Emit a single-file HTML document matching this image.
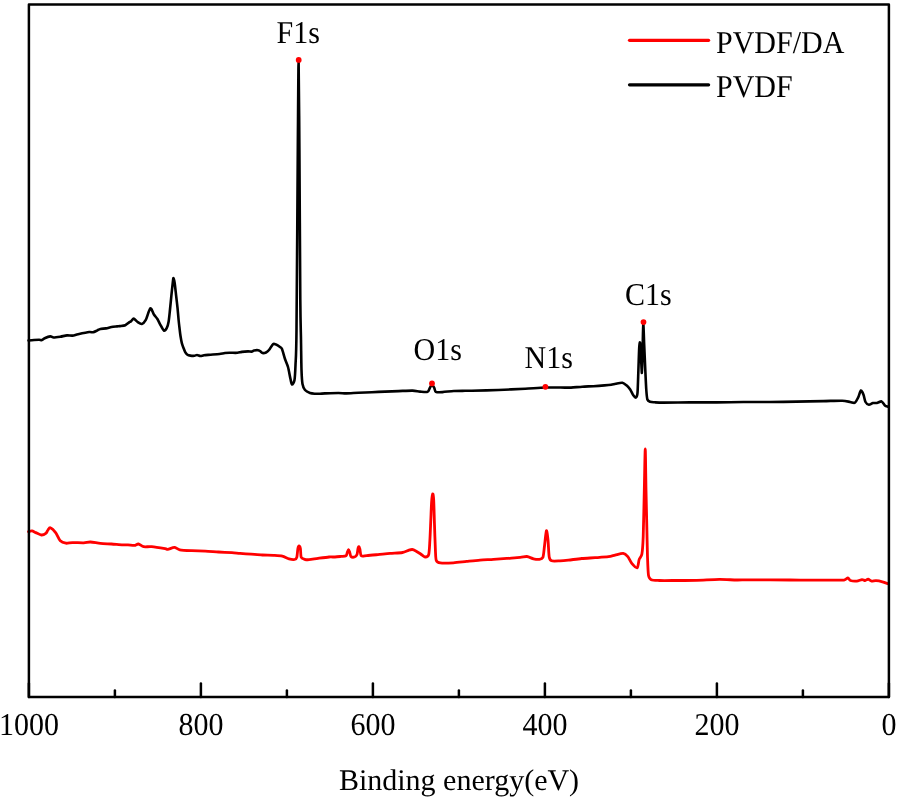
<!DOCTYPE html>
<html><head><meta charset="utf-8"><style>
html,body{margin:0;padding:0;background:#fff;}
svg{display:block;will-change:transform;}
text{font-family:"Liberation Serif",serif;font-size:30px;fill:#000;text-rendering:geometricPrecision;}
</style></head><body>
<svg width="898" height="800" viewBox="0 0 898 800">
<rect x="0" y="0" width="898" height="800" fill="#fff"/>
<path d="M28.50,340.50 C29.23,340.43 32.59,340.11 34.00,340.00 C35.41,339.89 38.05,339.69 39.10,339.70 C40.15,339.71 41.15,340.30 41.90,340.10 C42.65,339.90 43.58,338.69 44.70,338.20 C45.82,337.71 49.11,336.49 50.30,336.40 C51.49,336.31 52.27,337.46 53.60,337.50 C54.93,337.54 58.51,336.98 60.30,336.70 C62.09,336.42 65.37,335.55 67.00,335.40 C68.63,335.25 71.02,335.76 72.50,335.60 C73.98,335.44 75.87,334.68 78.10,334.20 C80.33,333.72 87.20,332.25 89.20,332.00 C91.20,331.75 92.06,332.49 93.10,332.30 C94.14,332.11 96.03,331.05 97.00,330.60 C97.97,330.15 99.20,329.19 100.40,328.90 C101.60,328.61 104.52,328.65 106.00,328.40 C107.48,328.15 110.02,327.27 111.50,327.00 C112.98,326.73 115.97,326.52 117.10,326.40 C118.23,326.28 118.91,326.26 120.00,326.10 C121.09,325.94 124.11,325.67 125.30,325.20 C126.49,324.73 128.13,323.13 128.90,322.60 C129.67,322.07 130.45,321.73 131.10,321.20 C131.75,320.67 132.91,318.48 133.80,318.60 C134.69,318.72 136.73,321.39 137.80,322.10 C138.87,322.81 140.73,324.19 141.80,323.90 C142.87,323.61 144.67,321.98 145.80,319.90 C146.93,317.82 149.22,309.02 150.30,308.30 C151.38,307.58 152.95,313.07 153.90,314.50 C154.85,315.93 156.57,317.69 157.40,319.00 C158.23,320.31 159.23,322.75 160.10,324.30 C160.97,325.85 163.02,330.08 163.90,330.60 C164.78,331.12 166.07,329.39 166.70,328.20 C167.33,327.01 168.16,324.19 168.60,321.70 C169.04,319.21 169.63,313.01 170.00,309.50 C170.37,305.99 171.03,299.03 171.40,295.40 C171.77,291.77 172.52,284.61 172.80,282.30 C173.08,279.99 173.25,277.98 173.50,278.10 C173.75,278.22 174.35,280.89 174.70,283.20 C175.05,285.51 175.73,292.15 176.10,295.40 C176.47,298.65 177.17,304.32 177.50,307.60 C177.83,310.88 178.33,317.28 178.60,320.00 C178.87,322.72 179.25,325.87 179.50,328.00 C179.75,330.13 180.18,333.95 180.50,336.00 C180.82,338.05 181.51,341.84 181.90,343.40 C182.29,344.96 182.96,346.54 183.40,347.70 C183.84,348.86 184.67,351.17 185.20,352.10 C185.73,353.03 186.71,354.23 187.40,354.70 C188.09,355.17 189.47,355.45 190.40,355.60 C191.33,355.75 193.52,355.88 194.40,355.80 C195.28,355.72 196.19,354.97 197.00,355.00 C197.81,355.03 199.57,355.97 200.50,356.00 C201.43,356.03 202.65,355.37 204.00,355.20 C205.35,355.03 208.53,354.86 210.60,354.70 C212.67,354.54 217.59,354.23 219.50,354.00 C221.41,353.77 223.47,353.16 224.90,353.00 C226.33,352.84 228.53,352.83 230.20,352.80 C231.87,352.77 235.85,352.92 237.40,352.80 C238.95,352.68 240.39,352.09 241.80,351.90 C243.21,351.71 246.69,351.44 248.00,351.40 C249.31,351.36 250.80,351.72 251.60,351.60 C252.40,351.48 253.15,350.69 254.00,350.50 C254.85,350.31 257.20,350.13 258.00,350.20 C258.80,350.27 259.40,350.63 260.00,351.00 C260.60,351.37 261.70,352.80 262.50,353.00 C263.30,353.20 265.13,352.90 266.00,352.50 C266.87,352.10 268.07,351.11 269.00,350.00 C269.93,348.89 272.07,344.93 273.00,344.20 C273.93,343.47 275.07,344.13 276.00,344.50 C276.93,344.87 279.20,346.40 280.00,347.00 C280.80,347.60 281.33,347.40 282.00,349.00 C282.67,350.60 284.20,356.60 285.00,359.00 C285.80,361.40 287.27,364.33 288.00,367.00 C288.73,369.67 289.97,376.67 290.50,379.00 C291.03,381.33 291.47,384.37 292.00,384.50 C292.53,384.63 294.03,382.60 294.50,380.00 C294.97,377.40 295.23,371.67 295.50,365.00 C295.77,358.33 296.19,358.67 296.50,330.00 C296.81,301.33 297.52,185.87 297.80,150.00 C298.08,114.13 298.39,61.00 298.60,61.00 C298.81,61.00 299.17,118.13 299.40,150.00 C299.63,181.87 300.09,274.67 300.30,300.00 C300.51,325.33 300.84,330.67 301.00,340.00 C301.16,349.33 301.30,364.13 301.50,370.00 C301.70,375.87 302.03,381.33 302.50,384.00 C302.97,386.67 304.00,388.80 305.00,390.00 C306.00,391.20 308.67,392.51 310.00,393.00 C311.33,393.49 313.67,393.61 315.00,393.70 C316.33,393.79 318.67,393.74 320.00,393.70 C321.33,393.66 322.55,393.49 325.00,393.40 C327.45,393.31 335.55,393.00 338.40,393.00 C341.25,393.00 343.73,393.44 346.40,393.40 C349.07,393.36 355.01,392.86 358.40,392.70 C361.79,392.54 368.24,392.35 371.80,392.20 C375.36,392.05 381.54,391.75 385.10,391.60 C388.66,391.45 394.85,391.23 398.50,391.10 C402.15,390.97 409.63,390.53 412.50,390.60 C415.37,390.67 418.00,391.43 420.00,391.60 C422.00,391.77 426.19,392.38 427.50,391.90 C428.81,391.42 429.35,388.77 429.80,388.00 C430.25,387.23 430.46,386.35 430.90,386.10 C431.34,385.85 432.65,385.85 433.10,386.10 C433.55,386.35 433.94,387.24 434.30,388.00 C434.66,388.76 434.71,391.25 435.80,391.80 C436.89,392.35 440.10,392.21 442.50,392.10 C444.90,391.99 450.80,391.17 453.80,391.00 C456.80,390.83 462.61,390.84 465.00,390.80 C467.39,390.76 467.23,390.81 471.70,390.70 C476.17,390.59 491.37,390.27 498.50,390.00 C505.63,389.73 518.93,389.03 525.20,388.70 C531.47,388.37 540.19,387.65 545.50,387.50 C550.81,387.35 561.59,387.59 565.00,387.60 C568.41,387.61 568.79,387.72 571.10,387.60 C573.41,387.48 579.33,386.89 582.30,386.70 C585.27,386.51 590.44,386.37 593.40,386.20 C596.36,386.03 602.13,385.60 604.50,385.40 C606.87,385.20 609.71,384.93 611.20,384.70 C612.69,384.47 614.21,383.95 615.70,383.70 C617.19,383.45 620.92,382.55 622.40,382.80 C623.88,383.05 625.76,384.71 626.80,385.60 C627.84,386.49 629.31,388.17 630.20,389.50 C631.09,390.83 632.73,394.53 633.50,395.60 C634.27,396.67 635.47,397.85 636.00,397.50 C636.53,397.15 637.18,396.67 637.50,393.00 C637.82,389.33 638.17,376.00 638.40,370.00 C638.63,364.00 638.99,351.67 639.20,348.00 C639.41,344.33 639.79,341.97 640.00,342.50 C640.21,343.03 640.55,347.93 640.80,352.00 C641.05,356.07 641.66,373.27 641.90,373.00 C642.14,372.73 642.41,356.53 642.60,350.00 C642.79,343.47 643.09,324.67 643.30,324.00 C643.51,323.33 643.93,338.87 644.20,345.00 C644.47,351.13 645.02,364.00 645.30,370.00 C645.58,376.00 646.02,386.07 646.30,390.00 C646.58,393.93 646.88,397.93 647.40,399.50 C647.92,401.07 649.23,401.43 650.20,401.80 C651.17,402.17 652.94,402.19 654.70,402.30 C656.46,402.41 658.68,402.59 663.40,402.60 C668.12,402.61 682.98,402.43 690.10,402.40 C697.22,402.37 709.68,402.45 716.80,402.40 C723.92,402.35 736.41,402.05 743.50,402.00 C750.59,401.95 762.91,402.05 770.00,402.00 C777.09,401.95 789.57,401.72 796.70,401.60 C803.83,401.48 817.43,401.22 823.50,401.10 C829.57,400.98 838.64,400.58 842.20,400.70 C845.76,400.82 848.51,401.73 850.20,402.00 C851.89,402.27 853.83,403.31 854.90,402.70 C855.97,402.09 857.40,399.03 858.20,397.40 C859.00,395.77 860.19,390.86 860.90,390.50 C861.61,390.14 862.89,393.17 863.50,394.70 C864.11,396.23 864.78,400.67 865.50,402.00 C866.22,403.33 867.91,404.57 868.90,404.70 C869.89,404.83 871.83,403.23 872.90,403.00 C873.97,402.77 875.74,403.21 876.90,403.00 C878.06,402.79 880.53,401.08 881.60,401.40 C882.67,401.72 884.05,404.69 884.90,405.40 C885.75,406.11 887.59,406.53 888.00,406.70" fill="none" stroke="#000" stroke-width="2.6" stroke-linejoin="round" stroke-linecap="round"/>
<path d="M28.50,531.70 C28.95,531.59 30.93,530.78 31.90,530.90 C32.87,531.02 34.53,532.05 35.80,532.60 C37.07,533.15 40.07,534.89 41.40,535.00 C42.73,535.11 44.92,534.07 45.80,533.40 C46.68,532.73 47.40,530.75 48.00,530.00 C48.60,529.25 49.26,527.43 50.30,527.80 C51.34,528.17 54.47,531.07 55.80,532.80 C57.13,534.53 58.95,539.41 60.30,540.80 C61.65,542.19 64.27,542.96 65.90,543.20 C67.53,543.44 70.13,542.65 72.50,542.60 C74.87,542.55 81.31,542.88 83.70,542.80 C86.09,542.72 88.17,541.92 90.40,542.00 C92.63,542.08 97.59,543.13 100.40,543.40 C103.21,543.67 108.53,543.81 111.50,544.00 C114.47,544.19 120.50,544.69 122.70,544.80 C124.90,544.91 126.44,544.72 128.00,544.80 C129.56,544.88 133.01,545.51 134.40,545.40 C135.79,545.29 137.16,543.83 138.40,544.00 C139.64,544.17 141.93,546.34 143.70,546.70 C145.47,547.06 148.85,546.43 151.70,546.70 C154.55,546.97 162.95,548.34 165.10,548.70 C167.25,549.06 166.56,549.57 167.80,549.40 C169.04,549.23 172.80,547.35 174.40,547.40 C176.00,547.45 177.48,549.36 179.80,549.80 C182.12,550.24 188.41,550.53 191.80,550.70 C195.19,550.87 201.64,550.93 205.20,551.10 C208.76,551.27 214.94,551.79 218.50,552.00 C222.06,552.21 229.03,552.51 231.90,552.70 C234.77,552.89 237.44,553.20 240.00,553.40 C242.56,553.60 248.13,553.99 251.10,554.20 C254.07,554.41 259.33,554.84 262.30,555.00 C265.27,555.16 270.73,555.24 273.40,555.40 C276.07,555.56 280.22,555.73 282.30,556.20 C284.38,556.67 287.36,558.46 289.00,558.90 C290.64,559.34 293.56,559.71 294.60,559.50 C295.64,559.29 296.36,558.78 296.80,557.30 C297.24,555.82 297.61,549.93 297.90,548.40 C298.19,546.87 298.67,545.80 299.00,545.80 C299.33,545.80 300.11,546.87 300.40,548.40 C300.69,549.93 300.64,555.85 301.20,557.30 C301.76,558.75 303.56,558.98 304.60,559.30 C305.64,559.62 307.21,559.82 309.00,559.70 C310.79,559.58 315.32,558.76 318.00,558.40 C320.68,558.04 326.83,557.19 329.10,557.00 C331.37,556.81 333.40,557.08 335.00,557.00 C336.60,556.92 339.63,556.56 341.10,556.40 C342.57,556.24 345.19,556.28 346.00,555.80 C346.81,555.32 346.87,553.61 347.20,552.80 C347.53,551.99 348.17,549.79 348.50,549.70 C348.83,549.61 349.38,551.21 349.70,552.10 C350.02,552.99 350.25,555.75 350.90,556.40 C351.55,557.05 353.79,557.24 354.60,557.00 C355.41,556.76 356.55,555.73 357.00,554.60 C357.45,553.47 357.75,549.57 358.00,548.50 C358.25,547.43 358.65,546.52 358.90,546.60 C359.15,546.68 359.58,547.87 359.90,549.10 C360.22,550.33 360.38,554.93 361.30,555.80 C362.22,556.67 364.59,555.76 366.80,555.60 C369.01,555.44 374.79,554.89 377.90,554.60 C381.01,554.31 386.83,553.68 390.10,553.40 C393.37,553.12 399.95,552.91 402.40,552.50 C404.85,552.09 407.19,550.70 408.50,550.30 C409.81,549.90 411.23,549.42 412.20,549.50 C413.17,549.58 414.67,550.30 415.80,550.90 C416.93,551.50 419.47,553.19 420.70,554.00 C421.93,554.81 423.93,556.92 425.00,557.00 C426.07,557.08 428.05,556.87 428.70,554.60 C429.35,552.33 429.62,544.61 429.90,540.00 C430.18,535.39 430.57,525.07 430.80,520.00 C431.03,514.93 431.35,505.49 431.60,502.00 C431.85,498.51 432.42,494.07 432.70,493.80 C432.98,493.53 433.46,495.84 433.70,500.00 C433.94,504.16 434.27,518.33 434.50,525.00 C434.73,531.67 435.16,545.27 435.40,550.00 C435.64,554.73 435.65,558.78 436.30,560.50 C436.95,562.22 438.02,562.59 440.30,562.90 C442.58,563.21 449.88,563.00 453.40,562.80 C456.92,562.60 463.14,561.76 466.70,561.40 C470.26,561.04 476.53,560.37 480.10,560.10 C483.67,559.83 489.94,559.63 493.50,559.40 C497.06,559.17 503.24,558.67 506.80,558.40 C510.36,558.13 517.52,557.65 520.20,557.40 C522.88,557.15 525.13,556.31 526.90,556.50 C528.67,556.69 531.90,558.41 533.50,558.80 C535.10,559.19 537.65,559.59 538.90,559.40 C540.15,559.21 542.15,559.19 542.90,557.40 C543.65,555.61 544.03,549.55 544.50,546.00 C544.97,542.45 545.93,531.60 546.40,530.80 C546.87,530.00 547.63,536.51 548.00,540.00 C548.37,543.49 548.72,554.23 549.20,557.00 C549.68,559.77 550.16,560.29 551.60,560.80 C553.04,561.31 557.76,560.89 560.00,560.80 C562.24,560.71 565.51,560.41 568.40,560.10 C571.29,559.79 578.14,558.82 581.70,558.50 C585.26,558.18 591.53,557.94 595.10,557.70 C598.67,557.46 605.83,557.05 608.50,556.70 C611.17,556.35 613.14,555.54 615.10,555.10 C617.06,554.66 621.51,553.19 623.20,553.40 C624.89,553.61 626.65,555.37 627.80,556.70 C628.95,558.03 630.55,561.92 631.80,563.40 C633.05,564.88 636.21,568.33 637.20,567.80 C638.19,567.27 638.57,561.23 639.20,559.40 C639.83,557.57 641.37,557.13 641.90,554.10 C642.43,551.07 642.88,545.25 643.20,536.70 C643.52,528.15 644.03,501.69 644.30,490.00 C644.57,478.31 645.02,449.00 645.25,449.00 C645.48,449.00 645.78,479.20 646.00,490.00 C646.22,500.80 646.70,521.11 646.90,530.00 C647.10,538.89 647.29,550.65 647.50,556.70 C647.71,562.75 648.01,572.33 648.50,575.40 C648.99,578.47 649.77,579.02 651.20,579.70 C652.63,580.38 656.03,580.39 659.20,580.50 C662.37,580.61 670.00,580.53 675.00,580.50 C680.00,580.47 690.78,580.45 696.70,580.30 C702.62,580.15 714.05,579.44 719.40,579.40 C724.75,579.36 732.69,579.95 736.80,580.00 C740.91,580.05 743.11,579.80 750.20,579.80 C757.29,579.80 782.61,579.96 790.00,580.00 C797.39,580.04 800.11,580.09 805.60,580.10 C811.09,580.11 826.08,580.10 831.20,580.10 C836.32,580.10 841.77,580.39 844.00,580.10 C846.23,579.81 847.05,577.85 847.90,577.90 C848.75,577.95 849.21,580.07 850.40,580.50 C851.59,580.93 855.25,581.22 856.80,581.10 C858.35,580.98 860.88,579.68 862.00,579.60 C863.12,579.52 864.39,580.55 865.20,580.50 C866.01,580.45 867.25,579.12 868.10,579.20 C868.95,579.28 870.55,580.90 871.60,581.10 C872.65,581.30 874.56,580.61 876.00,580.70 C877.44,580.79 880.80,581.40 882.40,581.80 C884.00,582.20 887.25,583.45 888.00,583.70" fill="none" stroke="#f00" stroke-width="2.8" stroke-linejoin="round" stroke-linecap="round"/>
<g fill="#f00">
<circle cx="298.7" cy="59.9" r="2.9"/>
<circle cx="432" cy="383.4" r="2.9"/>
<circle cx="545.4" cy="386.8" r="2.9"/>
<circle cx="643.5" cy="322.1" r="2.9"/>
</g>
<g stroke="#000" stroke-width="2.5" stroke-linecap="round" fill="none">
<rect x="28.9" y="4.4" width="860.00" height="692.60" stroke-linejoin="round"/>
<line x1="888.90" y1="697.0" x2="888.90" y2="683.6"/><line x1="802.90" y1="697.0" x2="802.90" y2="690.6"/><line x1="716.90" y1="697.0" x2="716.90" y2="683.6"/><line x1="630.90" y1="697.0" x2="630.90" y2="690.6"/><line x1="544.90" y1="697.0" x2="544.90" y2="683.6"/><line x1="458.90" y1="697.0" x2="458.90" y2="690.6"/><line x1="372.90" y1="697.0" x2="372.90" y2="683.6"/><line x1="286.90" y1="697.0" x2="286.90" y2="690.6"/><line x1="200.90" y1="697.0" x2="200.90" y2="683.6"/><line x1="114.90" y1="697.0" x2="114.90" y2="690.6"/><line x1="28.90" y1="697.0" x2="28.90" y2="683.6"/>
</g>
<g stroke-width="3.2" stroke-linecap="round">
<line x1="629.5" y1="40.3" x2="708.6" y2="40.3" stroke="#f00"/>
<line x1="629.5" y1="84.8" x2="708.6" y2="84.8" stroke="#000"/>
</g>
<text transform="translate(716,52.5) scale(1,1.06)">PVDF/DA</text>
<text transform="translate(716,97.4) scale(1,1.06)">PVDF</text>
<text transform="translate(276.5,43.0) scale(1,1.06)">F1s</text>
<text transform="translate(413.5,360.0) scale(1,1.06)">O1s</text>
<text transform="translate(524.5,367.7) scale(1,1.06)">N1s</text>
<text transform="translate(625,304.6) scale(1,1.06)">C1s</text>
<text transform="translate(888.90,734.9) scale(1,1.06)" text-anchor="middle">0</text><text transform="translate(716.90,734.9) scale(1,1.06)" text-anchor="middle">200</text><text transform="translate(544.90,734.9) scale(1,1.06)" text-anchor="middle">400</text><text transform="translate(372.90,734.9) scale(1,1.06)" text-anchor="middle">600</text><text transform="translate(200.90,734.9) scale(1,1.06)" text-anchor="middle">800</text><text transform="translate(28.90,734.9) scale(1,1.06)" text-anchor="middle">1000</text>
<text transform="translate(459,790.1)" text-anchor="middle">Binding energy(eV)</text>
</svg>
</body></html>
